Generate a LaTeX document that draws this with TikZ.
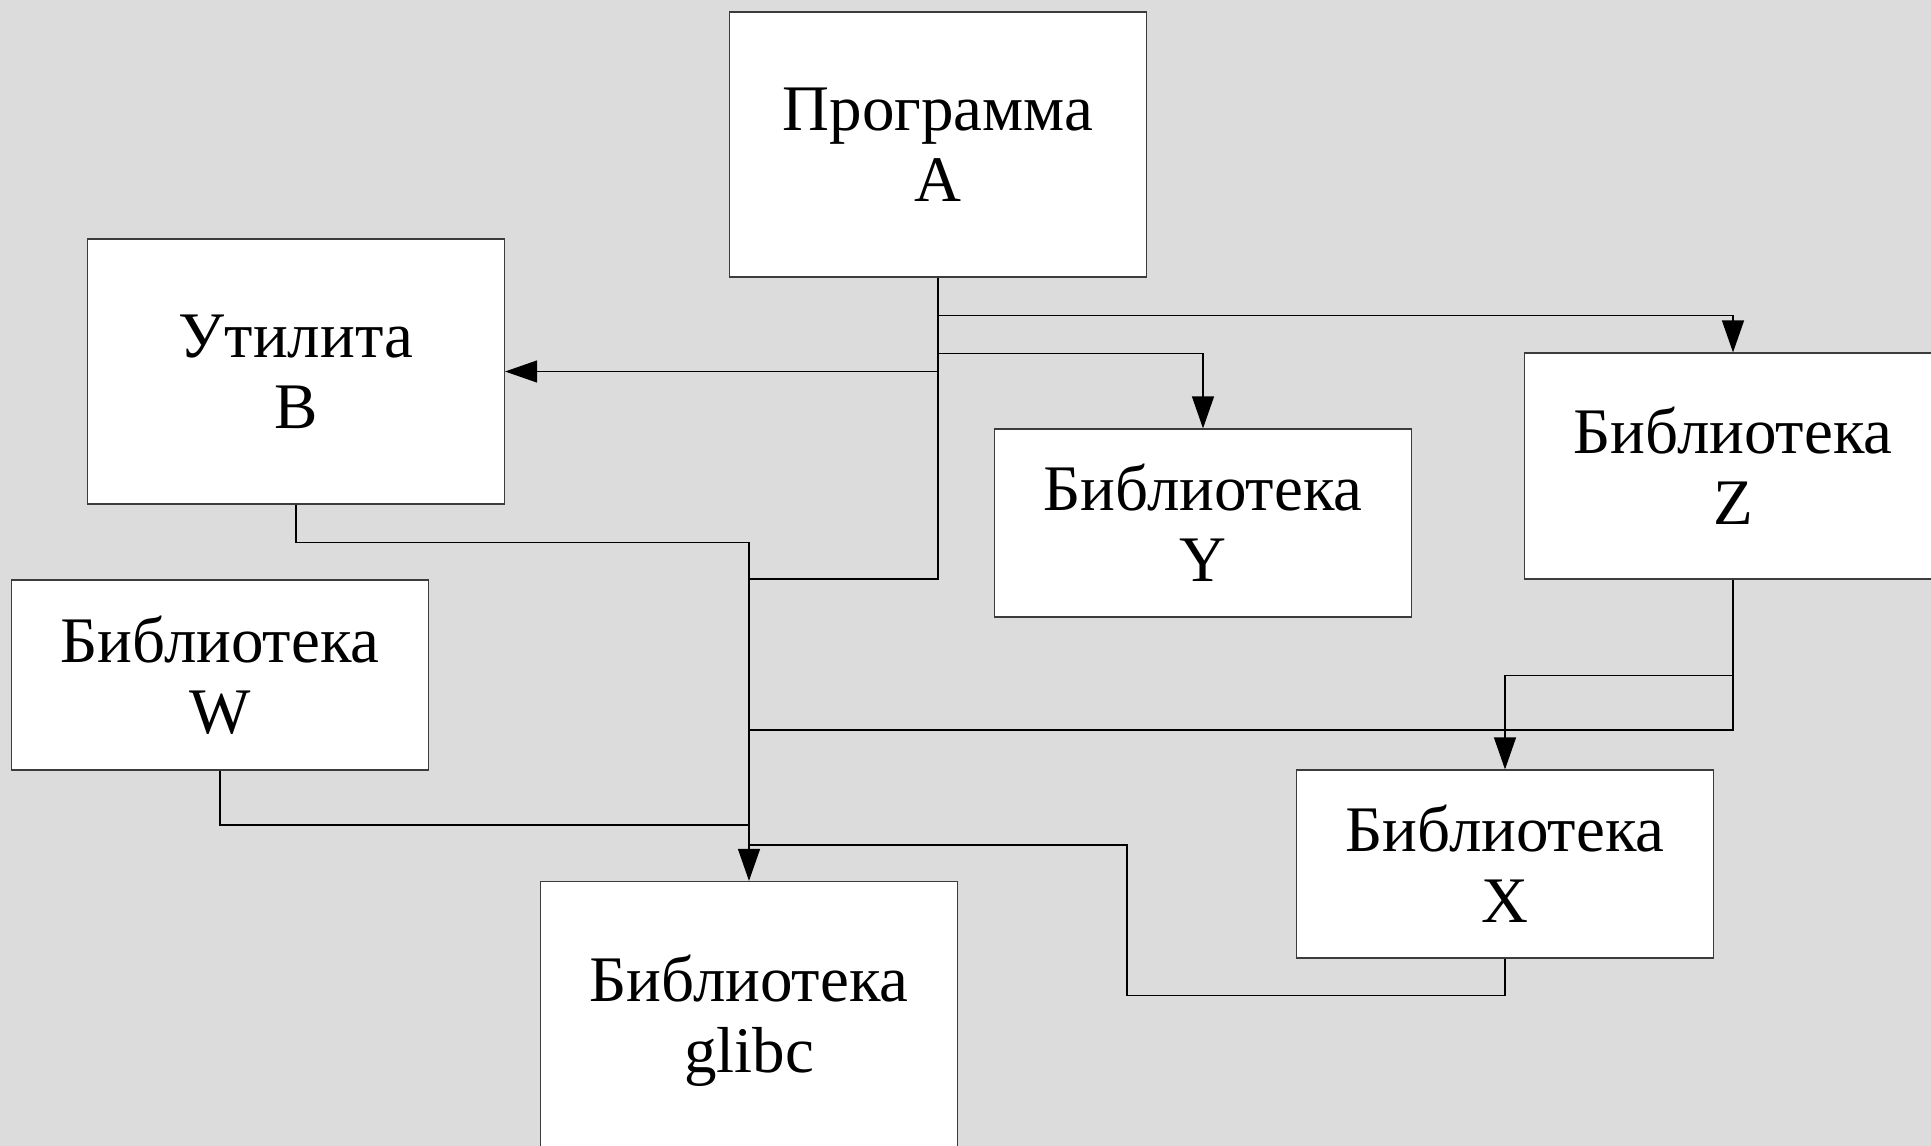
\documentclass[tikz,border=0pt]{standalone}
\usepackage{fontspec}
\setmainfont{Liberation Serif}
\usetikzlibrary{arrows.meta}
\definecolor{bggray}{RGB}{220,220,220}
\definecolor{edgegray}{RGB}{60,60,60}

\begin{document}
\begin{tikzpicture}
  [x=1pt,y=-1pt,
   every node/.style={draw=edgegray,fill=white,line width=1.2pt,inner sep=0pt,
     minimum width=417pt,align=center,font=\fontsize{65}{71}\selectfont},
   arr/.style={-{Triangle[length=32pt,width=22pt]}},
   every path/.append style={line width=1.2pt}]
\fill[bggray] (0,0) rectangle (1931,1146);
\useasboundingbox (0,0) rectangle (1931,1146);

\node (prog)[minimum height=265pt] at (938,144.5) {Программа\\A};
  \node (util)[minimum height=265pt] at (296,371.5) {Утилита\\B};
  \node (liby)[minimum height=188pt] at (1203,523) {Библиотека\\Y};
  \node (libz)[minimum height=226pt] at (1733,466) {Библиотека\\Z};
  \node (libw)[minimum height=190pt] at (220,675) {Библиотека\\W};
  \node (libx)[minimum height=188pt] at (1505,864) {Библиотека\\X};
  \node (glibc)[minimum height=279pt] at (749,1021) {Библиотека\\glibc};

\coordinate (ja) at (749,579);
\coordinate (jz) at (749,730);
\coordinate (jw) at (749,825);
\coordinate (jx) at (749,845);
\coordinate (xbend) at (1127,845);

 \draw (prog.south) |- (ja);
 \draw [arr] (prog.south) ++(0,38) -| (libz.north);
 \draw [arr] (prog.south) ++(0,76) -| (liby.north);
 \draw [arr] (prog.south |- util.east) -- (util.east);

    \draw [arr] (util.south) -- ++(0,38) -| (glibc.north);
 \draw [arr] (libz.south) -- ++(0,96) -| (libx.north);
 \draw (libz.south) |- (jz);

   \draw (libw.south) |- (jw);
 \draw (libx.south) -- ++(0,37) -| (xbend) -- (jx);
;
\end{tikzpicture}
\end{document}
